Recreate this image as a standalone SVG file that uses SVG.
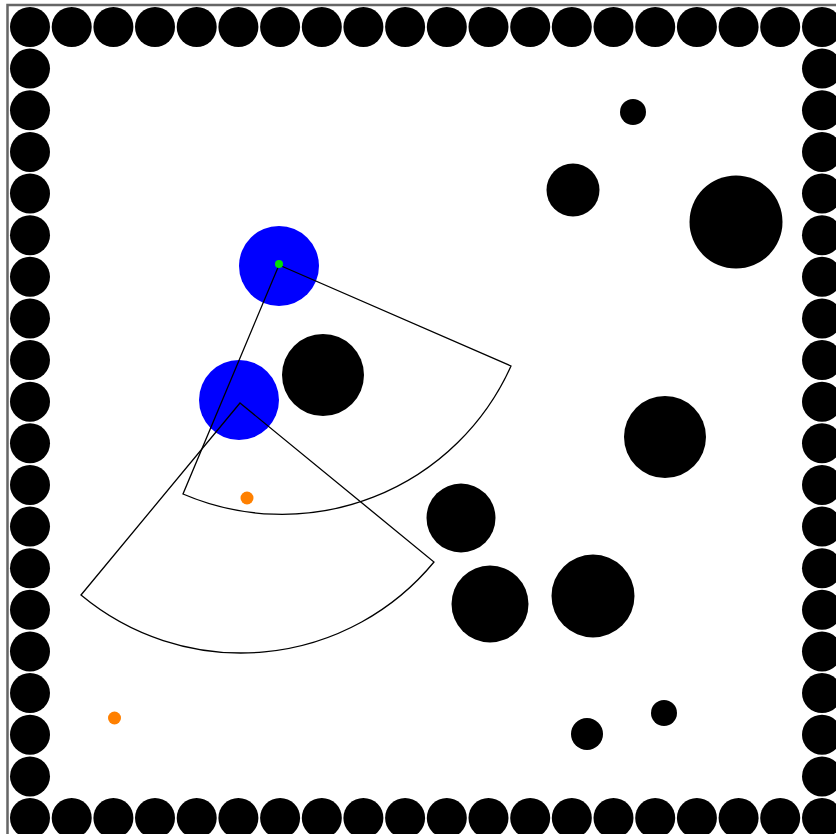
<svg xmlns="http://www.w3.org/2000/svg" xmlns:xlink="http://www.w3.org/1999/xlink" width="836" height="834" viewBox="0 0 836 834">
<style>
.wall{fill:#000}
.obs{fill:#000}
.robot{fill:#0000ff}
.fov{fill:none;stroke:#000;stroke-width:1.3;stroke-linejoin:miter}
.goal{fill:#ff8000}
.mark{fill:#00e000}
</style>
<defs>
<circle id="w" r="20" class="wall"/>
</defs>
<rect x="0" y="0" width="836" height="834" fill="#fff"/>
<rect x="7.5" y="5" width="840" height="840" fill="none" stroke="#666" stroke-width="2.5"/>
<g id="walls">
<g id="top">
<use xlink:href="#w" x="30" y="27"/><use xlink:href="#w" x="71.7" y="27"/><use xlink:href="#w" x="113.4" y="27"/><use xlink:href="#w" x="155" y="27"/><use xlink:href="#w" x="196.7" y="27"/><use xlink:href="#w" x="238.4" y="27"/><use xlink:href="#w" x="280.1" y="27"/><use xlink:href="#w" x="321.8" y="27"/><use xlink:href="#w" x="363.4" y="27"/><use xlink:href="#w" x="405.1" y="27"/><use xlink:href="#w" x="446.8" y="27"/><use xlink:href="#w" x="488.5" y="27"/><use xlink:href="#w" x="530.2" y="27"/><use xlink:href="#w" x="571.8" y="27"/><use xlink:href="#w" x="613.5" y="27"/><use xlink:href="#w" x="655.2" y="27"/><use xlink:href="#w" x="696.9" y="27"/><use xlink:href="#w" x="738.6" y="27"/><use xlink:href="#w" x="780.2" y="27"/><use xlink:href="#w" x="822" y="27"/>
</g>
<g id="bottom">
<use xlink:href="#w" x="30" y="818"/><use xlink:href="#w" x="71.7" y="818"/><use xlink:href="#w" x="113.4" y="818"/><use xlink:href="#w" x="155" y="818"/><use xlink:href="#w" x="196.7" y="818"/><use xlink:href="#w" x="238.4" y="818"/><use xlink:href="#w" x="280.1" y="818"/><use xlink:href="#w" x="321.8" y="818"/><use xlink:href="#w" x="363.4" y="818"/><use xlink:href="#w" x="405.1" y="818"/><use xlink:href="#w" x="446.8" y="818"/><use xlink:href="#w" x="488.5" y="818"/><use xlink:href="#w" x="530.2" y="818"/><use xlink:href="#w" x="571.8" y="818"/><use xlink:href="#w" x="613.5" y="818"/><use xlink:href="#w" x="655.2" y="818"/><use xlink:href="#w" x="696.9" y="818"/><use xlink:href="#w" x="738.6" y="818"/><use xlink:href="#w" x="780.2" y="818"/><use xlink:href="#w" x="822" y="818"/>
</g>
<g id="left">
<use xlink:href="#w" x="30" y="68.6"/><use xlink:href="#w" x="30" y="110.3"/><use xlink:href="#w" x="30" y="151.9"/><use xlink:href="#w" x="30" y="193.5"/><use xlink:href="#w" x="30" y="235.2"/><use xlink:href="#w" x="30" y="276.8"/><use xlink:href="#w" x="30" y="318.4"/><use xlink:href="#w" x="30" y="360.1"/><use xlink:href="#w" x="30" y="401.7"/><use xlink:href="#w" x="30" y="443.3"/><use xlink:href="#w" x="30" y="484.9"/><use xlink:href="#w" x="30" y="526.6"/><use xlink:href="#w" x="30" y="568.2"/><use xlink:href="#w" x="30" y="609.8"/><use xlink:href="#w" x="30" y="651.5"/><use xlink:href="#w" x="30" y="693.1"/><use xlink:href="#w" x="30" y="734.7"/><use xlink:href="#w" x="30" y="776.4"/>
</g>
<g id="right">
<use xlink:href="#w" x="822" y="68.6"/><use xlink:href="#w" x="822" y="110.3"/><use xlink:href="#w" x="822" y="151.9"/><use xlink:href="#w" x="822" y="193.5"/><use xlink:href="#w" x="822" y="235.2"/><use xlink:href="#w" x="822" y="276.8"/><use xlink:href="#w" x="822" y="318.4"/><use xlink:href="#w" x="822" y="360.1"/><use xlink:href="#w" x="822" y="401.7"/><use xlink:href="#w" x="822" y="443.3"/><use xlink:href="#w" x="822" y="484.9"/><use xlink:href="#w" x="822" y="526.6"/><use xlink:href="#w" x="822" y="568.2"/><use xlink:href="#w" x="822" y="609.8"/><use xlink:href="#w" x="822" y="651.5"/><use xlink:href="#w" x="822" y="693.1"/><use xlink:href="#w" x="822" y="734.7"/><use xlink:href="#w" x="822" y="776.4"/>
</g>
</g>
<g id="obstacles">
<circle class="obs" cx="633" cy="112" r="13"/>
<circle class="obs" cx="573" cy="190" r="26.5"/>
<circle class="obs" cx="736" cy="222" r="46.5"/>
<circle class="obs" cx="323" cy="375" r="41"/>
<circle class="obs" cx="665" cy="437" r="41"/>
<circle class="obs" cx="461" cy="518" r="34.5"/>
<circle class="obs" cx="490" cy="604" r="38.5"/>
<circle class="obs" cx="593" cy="596" r="41.5"/>
<circle class="obs" cx="664" cy="713" r="13"/>
<circle class="obs" cx="587" cy="734" r="16"/>
</g>
<g id="goals">
<circle class="goal" cx="247" cy="498" r="6.5"/>
<circle class="goal" cx="114.5" cy="718" r="6.5"/>
</g>
<g id="robots">
<circle class="robot" cx="279" cy="266" r="40"/>
<circle class="robot" cx="239" cy="400" r="40"/>
</g>
<g id="fov">
<path class="fov" d="M279,265 L511,366 A251,251 0 0 1 183,494 Z"/>
<path class="fov" d="M240,403 L434,562 A250,250 0 0 1 81,595 Z"/>
</g>
<circle class="mark" cx="279" cy="264" r="4"/>
</svg>
